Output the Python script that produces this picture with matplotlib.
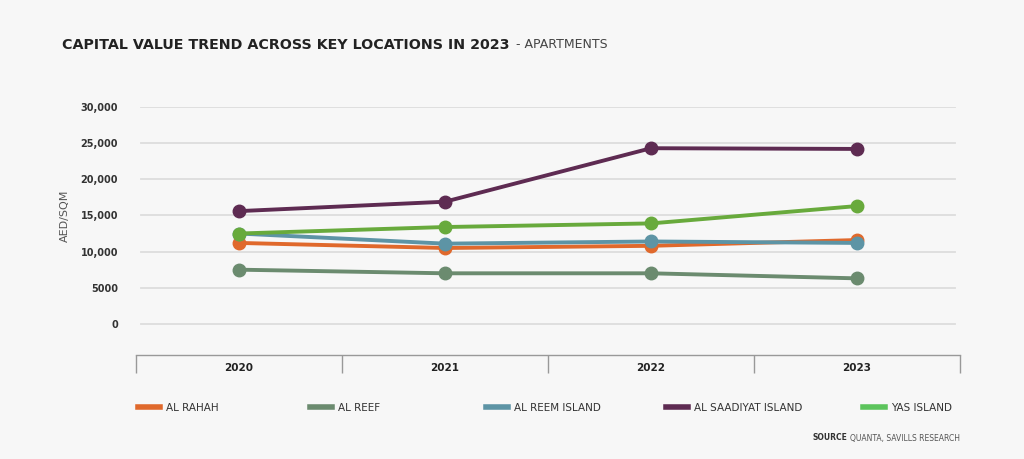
import numpy as np
import matplotlib.pyplot as plt
from matplotlib.lines import Line2D

years = ["2020", "2021", "2022", "2023"]
al_rahah = [11200, 10500, 10800, 11600]
al_reef = [7500, 7000, 7000, 6300]
al_reem = [12500, 11100, 11400, 11200]
al_saadiyat = [15600, 16900, 24300, 24200]
yas = [12500, 13400, 13900, 16300]

names = ["AL RAHAH", "AL REEF", "AL REEM ISLAND", "AL SAADIYAT ISLAND", "YAS ISLAND"]
series = [al_rahah, al_reef, al_reem, al_saadiyat, yas]
colors = ["#e0692c", "#6b8b6f", "#5d94a5", "#5e2b52", "#68aa3c"]
legend_colors = ["#e0692c", "#6b8b6f", "#5d94a5", "#5e2b52", "#5cc45c"]
zorders = [3, 2, 4, 6, 5]
legend_x = [129, 301, 477, 657, 854]  # pixel positions of legend entries

bg = "#f7f7f7"
fig = plt.figure(figsize=(10.24, 4.59), dpi=100, facecolor=bg)
ax = fig.add_axes([136 / 1024, 1 - 355 / 459, 824 / 1024, 248 / 459], facecolor=bg)

x = np.arange(len(years))
for vals, c, z in zip(series, colors, zorders):
    ax.plot(x, vals, color=c, lw=2.8, marker="o", ms=9, zorder=z, solid_capstyle="round")

ax.set_xlim(-0.5, 3.5)
ax.set_ylim(-4300, 30000)
yt = [0, 5000, 10000, 15000, 20000, 25000, 30000]
ylab = ["0", "5000", "10,000", "15,000", "20,000", "25,000", "30,000"]
for v in yt:
    ax.axhline(v, xmin=5 / 824, xmax=819 / 824, color="#dddddd", lw=1.3, zorder=1)
ax.set_yticks(yt)
ax.set_yticklabels(ylab, fontsize=7, color="#333333", fontweight="bold")
ax.tick_params(axis="y", length=0, pad=13)

ax.set_xticks(x)
ax.set_xticklabels(years, fontsize=7.5, color="#222222", fontweight="bold")
ax.tick_params(axis="x", length=0, pad=6)
ax.set_xticks(np.arange(-0.5, 4, 1), minor=True)
ax.tick_params(axis="x", which="minor", length=13, width=1, color="#999999", direction="out")

for s in ["top", "left", "right"]:
    ax.spines[s].set_visible(False)
ax.spines["bottom"].set_color("#999999")
ax.spines["bottom"].set_linewidth(1)

ax.set_ylabel("AED/SQM", fontsize=8, color="#555555")
ax.yaxis.set_label_coords(-66 / 824, 0.56)

# title in two parts
t1 = fig.text(62 / 1024, 1 - 45 / 459, "CAPITAL VALUE TREND ACROSS KEY LOCATIONS IN 2023",
              fontsize=10.3, fontweight="bold", color="#222222", va="center")
fig.canvas.draw()
bb = t1.get_window_extent()
fig.text(bb.x1 / 1024 + 3 / 1024, 1 - 45 / 459, " - APARTMENTS",
         fontsize=9, color="#444444", va="center")

for name, c, lx in zip(names, legend_colors, legend_x):
    h = Line2D([0], [0], color=c, lw=4)
    fig.legend([h], [name], loc="center left",
               bbox_to_anchor=(lx / 1024, 1 - 408 / 459),
               frameon=False, fontsize=7.5, handlelength=2.1, handletextpad=0.6,
               labelcolor="#333333")

t2 = fig.text(960 / 1024, 1 - 438 / 459, "QUANTA, SAVILLS RESEARCH", fontsize=5.5,
              color="#555555", ha="right", va="center")
fig.canvas.draw()
bb2 = t2.get_window_extent()
fig.text((bb2.x0 - 3) / 1024, 1 - 438 / 459, "SOURCE", fontsize=5.5, fontweight="bold",
         color="#333333", ha="right", va="center")

fig.savefig("out.png", dpi=100, facecolor=bg)
